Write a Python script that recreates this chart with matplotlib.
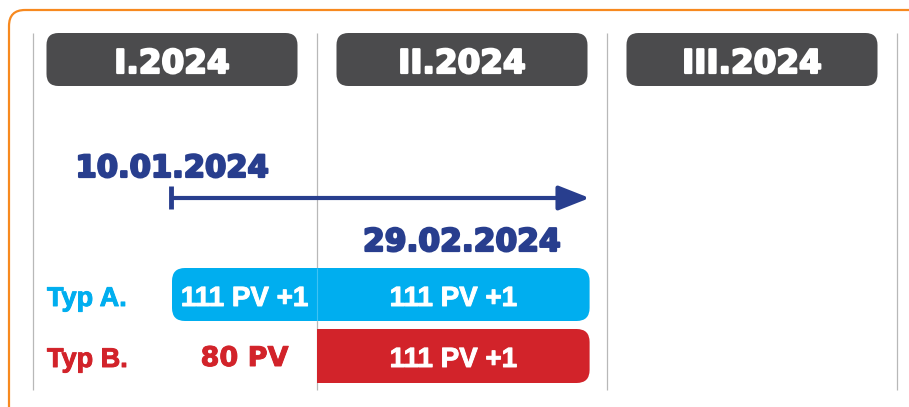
import matplotlib
matplotlib.use("Agg")
import matplotlib.pyplot as plt
import matplotlib.patheffects as pe
from matplotlib.patches import FancyBboxPatch, Rectangle

# ---- data ----
months = ["I.2024", "II.2024", "III.2024"]
month_edges = [0, 1, 2, 3]
start_label = "10.01.2024"
end_label = "29.02.2024"
period_start = 0.5      # position of 10.01 on the month axis (as drawn)
period_end = 1.94       # position of 29.02 on the month axis (as drawn)
types = ["Typ A.", "Typ B."]
typeA_values = ["111 PV +1", "111 PV +1"]   # before / after 29.02
typeB_values = ["80 PV", "111 PV +1"]

# ---- style ----
W, H = 909, 407
PX_PER_M = 290.0
X0_PX = 27.0
ORANGE = "#f7891f"
HEADER = "#4b4b4d"
NAVY = "#283e8e"
CYAN = "#00aeef"
RED = "#d2232a"
GRID = "#b8b8b8"
ASPECT = PX_PER_M  # y-units (px) per x-unit (month) ratio

fig = plt.figure(figsize=(W / 100, H / 100), dpi=100)
ax = fig.add_axes([0, 0, 1, 1])
ax.set_xlim(-X0_PX / PX_PER_M, (W - X0_PX) / PX_PER_M)
ax.set_ylim(H, 0)
ax.axis("off")


def m(px):
    return px / PX_PER_M


def rbox(x0, y0, w, h, r_px, color, z, **kw):
    p = FancyBboxPatch((x0, y0), w, h,
                       boxstyle=f"round,pad=0,rounding_size={m(r_px)}",
                       mutation_aspect=ASPECT, facecolor=color,
                       edgecolor=kw.pop("edgecolor", "none"), zorder=z, **kw)
    ax.add_patch(p)
    return p


def heavy(color, w):
    return [pe.withStroke(linewidth=w, foreground=color)]


# orange frame (extends beyond the image to the right and bottom)
rbox(m(9 - X0_PX), 10, m(W + 60), H + 60, 16, "none", 0,
     edgecolor=ORANGE, linewidth=1.6)

# month grid lines (the first one sits just inside the frame)
frame_inner = m(33 - X0_PX)
grid_x = [max(e, frame_inner) for e in month_edges]
ax.vlines(grid_x, 33, 390, color=GRID, linewidth=0.9, zorder=1)

# month headers
font_head = dict(family="DejaVu Sans", fontweight="bold")
for i, name in enumerate(months):
    c = month_edges[i] + 0.5
    rbox(c - m(251) / 2, 33, m(251), 53, 12, HEADER, 2)
    ax.text(c, 73, name, color="white", fontsize=23.5, ha="center",
            va="baseline", zorder=3, path_effects=heavy("white", 1.6),
            **font_head)

# period arrow
ax.annotate("", xy=(period_end, 198), xytext=(period_start, 198),
            arrowprops=dict(arrowstyle="-|>,head_length=1.9,head_width=0.75",
                            color=NAVY, lw=3.0, shrinkA=0, shrinkB=0,
                            mutation_scale=10), zorder=3)
ax.vlines([period_start - m(1)], 186, 209, color=NAVY, linewidth=3.5, zorder=3)
ax.text(period_start, 177, start_label, color=NAVY, fontsize=22, ha="center",
        va="baseline", zorder=3, path_effects=heavy(NAVY, 1.6), **font_head)
ax.text(1.5, 251, end_label, color=NAVY, fontsize=22.5, ha="center",
        va="baseline", zorder=3, path_effects=heavy(NAVY, 1.6), **font_head)

# rows
font_row = dict(family=["Liberation Sans", "DejaVu Sans"], fontweight="bold")
font_wide = dict(family="DejaVu Sans", fontweight="bold")
rowA_top, rowA_h = 268, 53
rowB_top, rowB_h = 329, 54

# Typ A bar (whole period)
rbox(period_start, rowA_top, period_end - period_start, rowA_h, 13, CYAN, 2)
ax.vlines([1], rowA_top, rowA_top + rowA_h, color="white", alpha=0.25,
          linewidth=0.8, zorder=2.5)
# Typ B bar (from start of February to end)
rbox(1, rowB_top, period_end - 1, rowB_h, 13, RED, 2)
ax.add_patch(Rectangle((1, rowB_top), m(20), rowB_h, facecolor=RED,
                       edgecolor="none", zorder=2))

ax.text(0.5 + 0.25, 306, typeA_values[0], color="white", fontsize=20,
        ha="center", va="baseline", zorder=3,
        path_effects=heavy("white", 0.7), **font_row)
ax.text((1 + period_end) / 2, 306, typeA_values[1], color="white",
        fontsize=20, ha="center", va="baseline", zorder=3,
        path_effects=heavy("white", 0.7), **font_row)
ax.text(0.5 + 0.25, 366, typeB_values[0], color=RED, fontsize=19.5,
        ha="center", va="baseline", zorder=3,
        path_effects=heavy(RED, 0.7), **font_wide)
ax.text((1 + period_end) / 2, 367, typeB_values[1], color="white",
        fontsize=20, ha="center", va="baseline", zorder=3,
        path_effects=heavy("white", 0.7), **font_row)

ax.text(m(47 - X0_PX), 306, types[0], color=CYAN, fontsize=19.5, ha="left",
        va="baseline", zorder=3, path_effects=heavy(CYAN, 0.7), **font_row)
ax.text(m(47 - X0_PX), 367, types[1], color=RED, fontsize=19.5, ha="left",
        va="baseline", zorder=3, path_effects=heavy(RED, 0.7), **font_row)

fig.savefig("out.png", dpi=100)
